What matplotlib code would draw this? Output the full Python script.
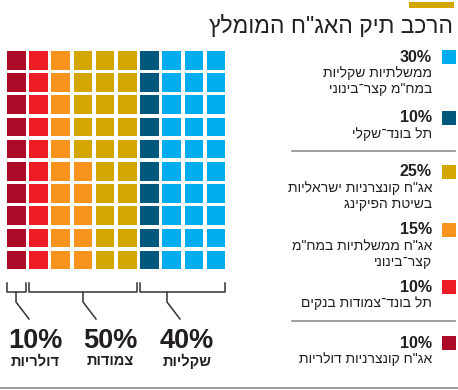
import matplotlib
matplotlib.use("Agg")
import matplotlib.pyplot as plt
from matplotlib.patches import Rectangle

# Hebrew is stored in logical order; matplotlib has no bidi, so flip for drawing
def rtl(s):
    return s[::-1]

title = 'הרכב תיק האג"ח המומלץ'

# legend entries, top to bottom (also fill order of the waffle, right to left)
shares = [30, 10, 25, 15, 10, 10]
labels = [
    ['ממשלתיות שקליות', 'במח"מ קצר־בינוני'],
    ['תל בונד־שקלי'],
    ['אג"ח קונצרניות ישראליות', 'בשיטת הפיקינג'],
    ['אג"ח ממשלתיות במח"מ', 'קצר־בינוני'],
    ['תל בונד־צמודות בנקים'],
    ['אג"ח קונצרניות דולריות'],
]
colors = ['#00AEEF', '#00587D', '#D4A700', '#F7941D', '#ED1C24', '#AD0A27']

# summary groups (left to right)
group_pct = [10, 50, 40]
group_names = ['דולריות', 'צמודות', 'שקליות']

W, H = 458, 390
fig = plt.figure(figsize=(W / 100, H / 100), dpi=100)
ax = fig.add_axes([0, 0, 1, 1])
ax.set_xlim(0, W)
ax.set_ylim(H, 0)
ax.axis('off')

fam = ['Liberation Sans', 'DejaVu Sans']
txt = '#231F20'

# waffle: 10x10, filled column by column from the right, top to bottom
x0, y0, pitch, sq = 7, 51, 22.2, 18.5
cell_colors = []
for c, n in zip(colors, shares):
    cell_colors += [c] * n
for k, c in enumerate(cell_colors):
    col = 9 - k // 10
    row = k % 10
    ax.add_patch(Rectangle((x0 + col * pitch, y0 + row * pitch), sq, sq,
                           facecolor=c, edgecolor='none'))

# brackets under the waffle
groups_cols = [(0, 0), (1, 5), (6, 9)]
tick_x = [16, 83, 167]
label_x = [35, 110, 187]
by, bb = 283, 292
for (c0, c1), xm, xc, pct, name in zip(groups_cols, tick_x, label_x,
                                       group_pct, group_names):
    xa = x0 + c0 * pitch
    xb = x0 + c1 * pitch + sq
    ax.plot([xa, xa, xb, xb], [by, bb, bb, by], color='#333333', lw=1.1)
    ax.plot([xm, xm, xm + 13], [bb, 302, 319], color='#333333', lw=1.1)
    ax.text(xc, 347.5, f'{pct}%', ha='center', va='baseline', fontsize=19.5,
            fontweight='bold', color=txt, family=fam)
    ax.text(xc, 361, rtl(name), ha='center', va='center', fontsize=10.5,
            fontweight='bold', color=txt, family=fam)

# title and accent bar
ax.add_patch(Rectangle((409, 2), 45, 6, facecolor='#D4A700', edgecolor='none'))
ax.text(453, 26, rtl(title), ha='right', va='center', fontsize=16.5,
        color=txt, family=fam)

# legend
centers = [57, 118, 172, 230, 287, 343]
for c, n, lines, yc in zip(colors, shares, labels, centers):
    ax.add_patch(Rectangle((442, yc - 7), 14, 14, facecolor=c, edgecolor='none'))
    ax.text(432, yc, f'{n}%', ha='right', va='center', fontsize=11.5,
            fontweight='bold', color=txt, family=fam)
    for i, line in enumerate(lines):
        ax.text(432, yc + 16 + i * 16, rtl(line), ha='right', va='center',
                fontsize=10, color=txt, family=fam)

for ys in [151, 321]:
    ax.plot([292, 455], [ys, ys], color='#8C8C8C', lw=1.2)
ax.plot([0, W], [388, 388], color='#8C8C8C', lw=1.2)

fig.savefig('out.png', dpi=100)
